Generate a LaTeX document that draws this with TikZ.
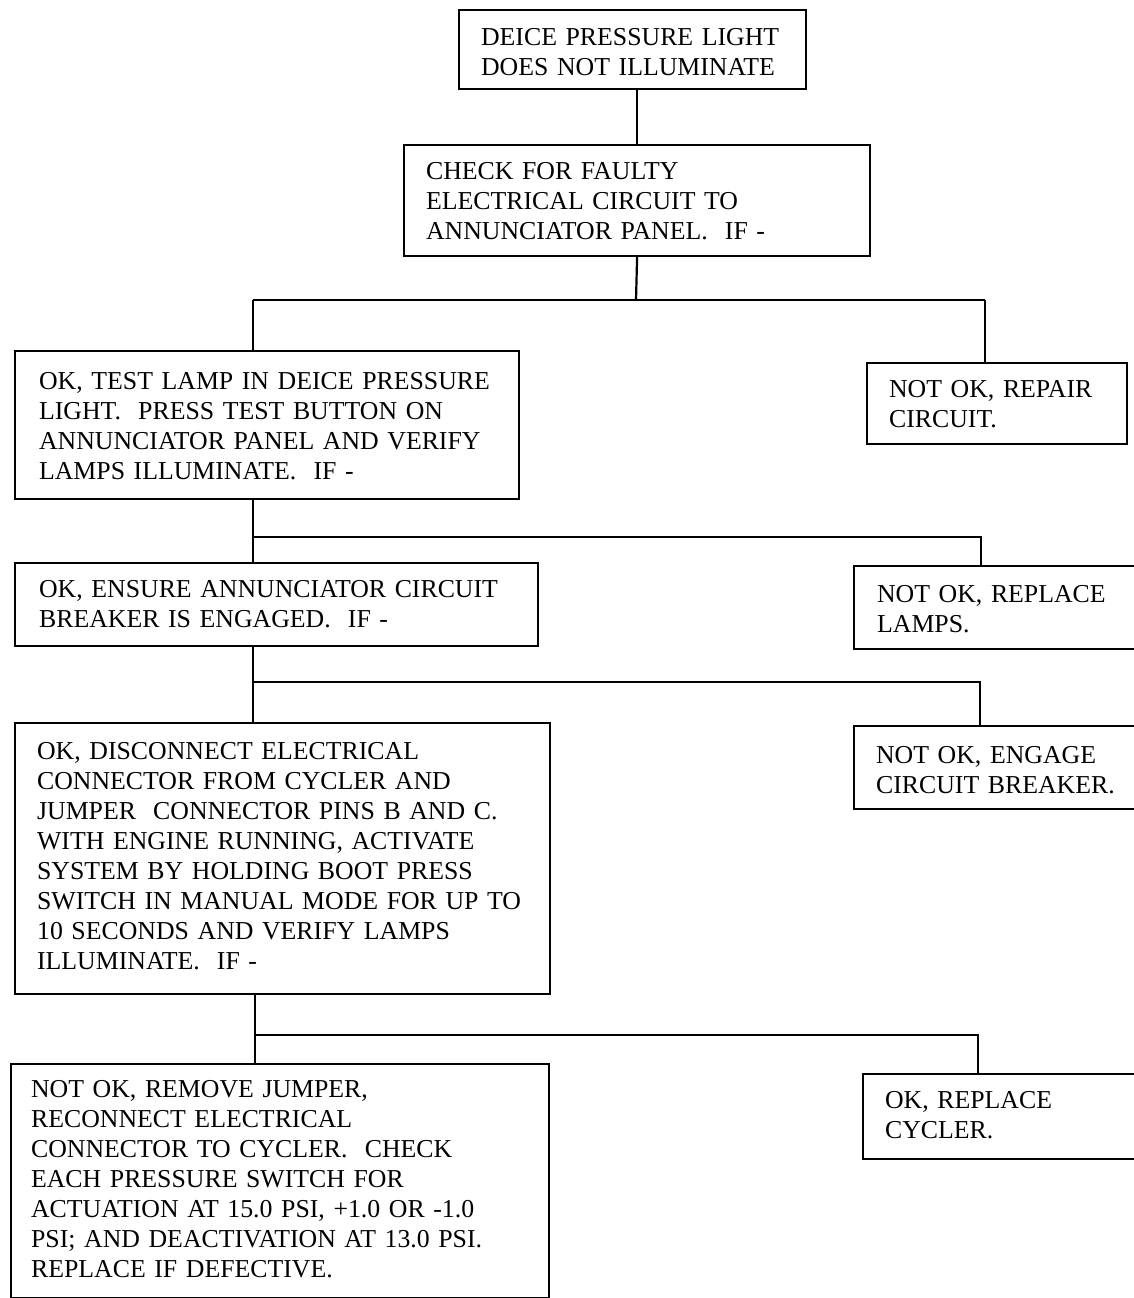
\documentclass[tikz,border=0pt]{standalone}
\usepackage{fontspec}
\setmainfont{Liberation Serif}
% #1: height of first-row strut (21pt = neutral), #2: left padding, #3: lines
\newcommand\boxtext[3][21pt]{\hbox{\kern#2\begin{tabular}{@{}l@{}}\rule{0pt}{#1}#3\end{tabular}}}
\tikzset{
  boxnode/.style={draw=black, line width=2.2pt, anchor=north west, inner xsep=0pt, inner ysep=0pt,
    align=left, font=\fontsize{25.8}{30}\selectfont},
  link/.style={draw=black, line width=2.2pt}
}
\begin{document}
\begin{tikzpicture}[x=1pt,y=-1pt]
\useasboundingbox (0,0) rectangle (1134,1298);
\fill[white] (0,0) rectangle (1134,1298);
\clip (0,0) rectangle (1134,1298);

\node[boxnode, text width=347pt, minimum height=79pt] (b1) at (458,9)
  {\boxtext[31pt]{22pt}{DEICE PRESSURE LIGHT\\DOES NOT ILLUMINATE}};
\node[boxnode, text width=466pt, minimum height=111pt] (b2) at (403,144)
  {\boxtext[27pt]{22pt}{CHECK FOR FAULTY\\ELECTRICAL CIRCUIT TO\\ANNUNCIATOR PANEL.\ \ IF -}};
\node[boxnode, text width=504pt, minimum height=148pt] (b3) at (14,350)
  {\boxtext[27pt]{24pt}{OK, TEST LAMP IN DEICE PRESSURE\\LIGHT.\ \ PRESS TEST BUTTON ON\\ANNUNCIATOR PANEL AND VERIFY\\LAMPS ILLUMINATE.\ \ IF -}};
\node[boxnode, text width=260pt, minimum height=81pt] (b4) at (866,362)
  {\boxtext[27pt]{22pt}{NOT OK, REPAIR\\CIRCUIT.}};
\node[boxnode, text width=523pt, minimum height=83pt] (b5) at (14,562)
  {\boxtext[25pt]{24pt}{OK, ENSURE ANNUNCIATOR CIRCUIT\\BREAKER IS ENGAGED.\ \ IF -}};
\node[boxnode, text width=300pt, minimum height=83pt] (b6) at (853,565)
  {\boxtext[29pt]{23pt}{NOT OK, REPLACE\\LAMPS.}};
\node[boxnode, text width=535pt, minimum height=271pt] (b7) at (14,722)
  {\boxtext{22pt}{OK, DISCONNECT ELECTRICAL\\CONNECTOR FROM CYCLER AND\\JUMPER\ \ CONNECTOR PINS B AND C.\\WITH ENGINE RUNNING, ACTIVATE\\SYSTEM BY HOLDING BOOT PRESS\\SWITCH IN MANUAL MODE FOR UP TO\\10 SECONDS AND VERIFY LAMPS\\ILLUMINATE.\ \ IF -}};
\node[boxnode, text width=300pt, minimum height=83pt] (b8) at (853,725)
  {\boxtext[31pt]{22pt}{NOT OK, ENGAGE\\CIRCUIT BREAKER.}};
\node[boxnode, text width=538pt, minimum height=234pt] (b9) at (10,1063)
  {\boxtext{20pt}{NOT OK, REMOVE JUMPER,\\RECONNECT ELECTRICAL\\CONNECTOR TO CYCLER.\ \ CHECK\\EACH PRESSURE SWITCH FOR\\ACTUATION AT 15.0 PSI, +1.0 OR -1.0\\PSI; AND DEACTIVATION AT 13.0 PSI.\\REPLACE IF DEFECTIVE.}};
\node[boxnode, text width=290pt, minimum height=85pt] (b10) at (862,1073)
  {\boxtext[23pt]{22pt}{OK, REPLACE\\CYCLER.}};

% connectors
\draw[link] (b1.south -| b2.north) -- (b2.north);

\coordinate (j1) at (636,300);
\coordinate (j1l) at (253,300);
\coordinate (j1r) at (985,300);
\draw[link] (b2.south) -- (j1);
\draw[link] (j1l) -- (j1r);
\draw[link] (j1l) -- (j1l |- b3.north);
\draw[link] (j1r) -- (j1r |- b4.north);

\coordinate (j2l) at (253,537);
\coordinate (j2r) at (981,537);
\draw[link] (j2l |- b3.south) -- (j2l |- b5.north);
\draw[link] (j2l) -- (j2r) -- (j2r |- b6.north);

\coordinate (j3l) at (253,682);
\coordinate (j3r) at (980,682);
\draw[link] (j3l |- b5.south) -- (j3l |- b7.north);
\draw[link] (j3l) -- (j3r) -- (j3r |- b8.north);

\coordinate (j4l) at (255,1035);
\coordinate (j4r) at (978,1035);
\draw[link] (j4l |- b7.south) -- (j4l |- b9.north);
\draw[link] (j4l) -- (j4r) -- (j4r |- b10.north);
\end{tikzpicture}
\end{document}
